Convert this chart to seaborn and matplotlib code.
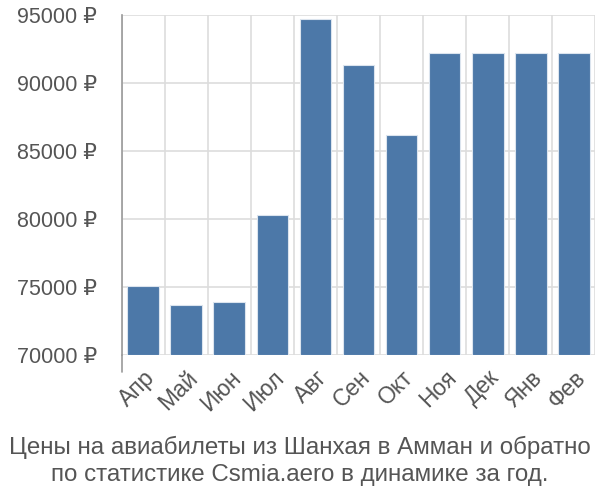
import pandas as pd
import matplotlib.pyplot as plt
import seaborn as sns
from matplotlib.ticker import FixedLocator, FuncFormatter

months = ['Апр', 'Май', 'Июн', 'Июл', 'Авг', 'Сен', 'Окт', 'Ноя', 'Дек', 'Янв', 'Фев']
prices = [75100, 73700, 73900, 80300, 94700, 91350, 86150, 92200, 92200, 92200, 92200]
y_ticks = [70000, 75000, 80000, 85000, 90000, 95000]
caption = ('Цены на авиабилеты из Шанхая в Амман и обратно\n'
           'по статистике Csmia.aero в динамике за год.')

sns.set_style("white")
plt.rcParams['font.family'] = ['Liberation Sans', 'DejaVu Sans']

df = pd.DataFrame({'Месяц': months, 'Цена': prices})

fig = plt.figure(figsize=(6, 5), dpi=100)
ax = fig.add_axes([0.203, 0.29, 0.789, 0.68])

# bars start at the bottom of the visible range
base = y_ticks[0]
sns.barplot(data=df.assign(h=df['Цена'] - base), x='Месяц', y='h', bottom=base,
            color='#4c78a8', saturation=1, width=0.74, edgecolor='#dbe4ee',
            linewidth=0.8, ax=ax, zorder=3)

ax.set_ylim(y_ticks[0], y_ticks[-1])
ax.set_xlim(-0.5, len(months) - 0.5)
ax.yaxis.set_major_locator(FixedLocator(y_ticks))
ax.yaxis.set_major_formatter(FuncFormatter(lambda v, p: f'{v:.0f} ₽'))
ax.grid(axis='y', color='#dddddd', linewidth=1.2, zorder=0)

# vertical lines between categories, extended below the axis as tick marks
ax.set_xticks([i - 0.5 for i in range(len(months) + 1)], minor=True)
ax.grid(axis='x', which='minor', color='#dddddd', linewidth=1.2, zorder=0)
ax.tick_params(axis='x', which='minor', length=17, color='#dddddd', width=1.2)
ax.tick_params(axis='x', which='major', length=0, pad=8)
ax.tick_params(axis='y', length=17, color='#dddddd', width=1.2, pad=1)
ax.set_xticklabels(months, rotation=45, ha='right', va='top', rotation_mode='anchor',
                   fontsize=16.5, color='#555555')
for lbl in ax.get_yticklabels():
    lbl.set_fontsize(15.5)
    lbl.set_color('#555555')

for side in ['top', 'right', 'bottom']:
    ax.spines[side].set_visible(False)
ax.spines['left'].set_color('#999999')
ax.spines['left'].set_linewidth(1.2)
ax.axvline(-0.5, ymin=-0.05, ymax=0, color='#999999', linewidth=1.2, clip_on=False)

ax.set_xlabel('')
ax.set_ylabel('')

fig.text(0.5, 0.079, caption, ha='center', va='center', fontsize=17.4,
         color='#555555', linespacing=1.3)

plt.savefig('out.png', dpi=100)
plt.close()
